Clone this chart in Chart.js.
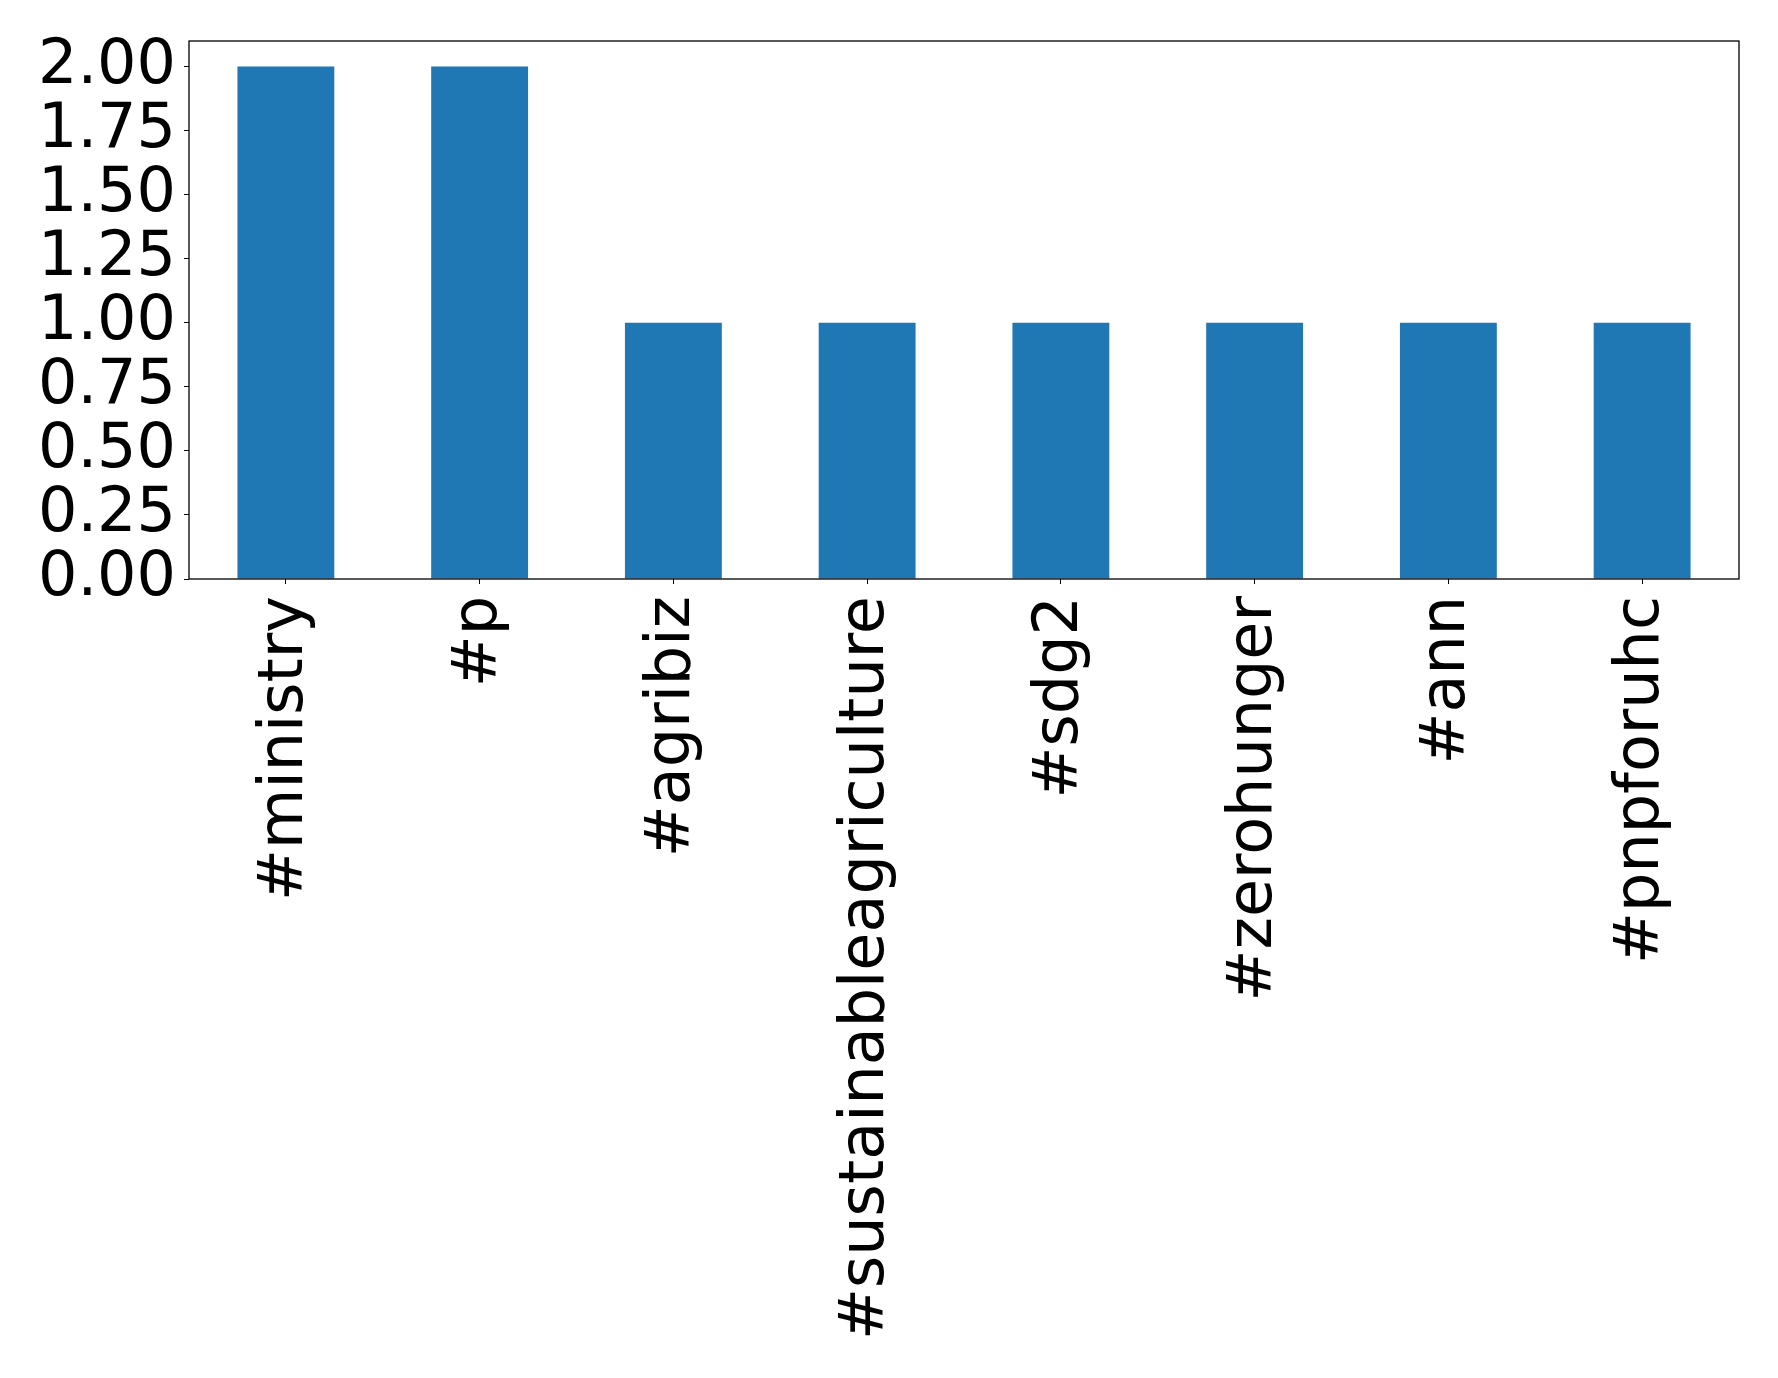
<!DOCTYPE html>
<html>
<head>
<meta charset="utf-8">
<script src="https://cdn.jsdelivr.net/npm/chart.js@4/dist/chart.umd.min.js"></script>
<style>
    html, body { margin: 0; padding: 0; background: #fff; }
    #wrap { width: 1778px; height: 1378px; }
</style>
</head>
<body>
<div id="wrap"><canvas id="chart"></canvas></div>
<script>
const categories = ['#ministry', '#p', '#agribiz', '#sustainableagriculture', '#sdg2', '#zerohunger', '#ann', '#pnpforuhc'];
const counts = [2, 2, 1, 1, 1, 1, 1, 1];
const yTicks = [0, 0.25, 0.5, 0.75, 1, 1.25, 1.5, 1.75, 2];

const FONT = { family: 'DejaVu Sans', size: 62 };

// box round the plot area, like the matplotlib axes frame
const frame = {
    id: 'frame',
    afterDraw(chart) {
        const { ctx, chartArea: a } = chart;
        ctx.save();
        ctx.strokeStyle = '#000';
        ctx.lineWidth = 1.3;
        ctx.strokeRect(a.left, a.top, a.right - a.left, a.bottom - a.top);
        ctx.restore();
    }
};

const ctx = document.getElementById('chart').getContext('2d');
new Chart(ctx, {
    type: 'bar',
    data: {
        labels: categories,
        datasets: [{
            data: counts,
            backgroundColor: '#1f77b4',
            barPercentage: 0.5,
            categoryPercentage: 1.0
        }]
    },
    options: {
        responsive: true,
        maintainAspectRatio: false,
        animation: false,
        layout: { padding: { top: 41, right: 39, left: 0, bottom: 0 } },
        plugins: { legend: { display: false }, tooltip: { enabled: false } },
        scales: {
            x: {
                offset: true,
                grid: { display: true, drawOnChartArea: false, drawTicks: true, tickLength: 5, color: '#000', offset: false },
                border: { display: false },
                ticks: { color: '#000', font: FONT, minRotation: 90, maxRotation: 90, padding: 12, autoSkip: false },
                afterFit(scale) {
                    scale.height = 1378 - 579;
                    scale.paddingLeft = 0;
                    scale.paddingRight = 0;
                }
            },
            y: {
                min: 0,
                max: 2.1,
                grid: { display: true, drawOnChartArea: false, drawTicks: true, tickLength: 5, color: '#000' },
                border: { display: false },
                afterBuildTicks(scale) { scale.ticks = yTicks.map(v => ({ value: v })); },
                ticks: {
                    color: '#000',
                    font: FONT,
                    padding: 8,
                    autoSkip: false,
                    callback: v => Number(v).toFixed(2)
                },
                afterFit(scale) {
                    scale.width = 189;
                    scale.paddingTop = 0;
                    scale.paddingBottom = 0;
                }
            }
        }
    },
    plugins: [frame]
});
</script>
</body>
</html>
